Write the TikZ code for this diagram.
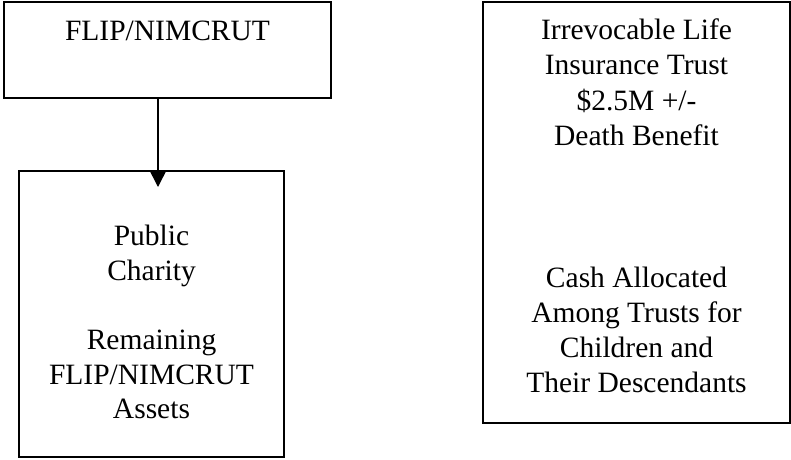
\documentclass[tikz,border=0pt]{standalone}
\usepackage{fontspec}
\setmainfont{Liberation Serif}
\usetikzlibrary{arrows.meta}
\begin{document}
\begin{tikzpicture}[x=1pt,y=-1pt,
  box/.style={draw, line width=1.5pt, inner sep=0pt},
  txt/.style={anchor=base, inner sep=0pt, font=\fontsize{29.5}{35}\selectfont},
  link/.style={line width=1.5pt, -{Triangle[width=16pt,length=16pt]}}]
\useasboundingbox (0,0) rectangle (791,459);
% boxes
\node[box, minimum width=327pt, minimum height=96pt] (b1) at (167.5,50) {};
\node[box, minimum width=265pt, minimum height=286pt] (b2) at (151.5,314) {};
\node[box, minimum width=307pt, minimum height=421pt] (b3) at (636.5,212.5) {};
% texts
\node[txt] (t1) at (167.5,40) {FLIP/NIMCRUT};
\node[txt] (t2a) at (151.5,245) {Public};
\node[txt] (t2b) at (151.5,280) {Charity};
\node[txt] (t2c) at (151.5,349) {Remaining};
\node[txt] (t2d) at (151.5,384) {FLIP/NIMCRUT};
\node[txt] (t2e) at (151.5,418) {Assets};
\node[txt] (t3a) at (636.5,39) {Irrevocable Life};
\node[txt] (t3b) at (636.5,74.5) {Insurance Trust};
\node[txt] (t3c) at (636.5,110) {\$2.5M +/-};
\node[txt] (t3d) at (636.5,145) {Death Benefit};
\node[txt] (t3e) at (636.5,287) {Cash Allocated};
\node[txt] (t3f) at (636.5,322) {Among Trusts for};
\node[txt] (t3g) at (636.5,357) {Children and};
\node[txt] (t3h) at (636.5,392) {Their Descendants};
% arrow
\coordinate (tip) at (158,187);
\draw[link] (b1.south -| tip) -- (tip);
\end{tikzpicture}
\end{document}
